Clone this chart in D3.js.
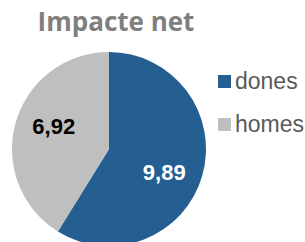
<!DOCTYPE html>
<html>
<head>
<meta charset="utf-8">
<script src="https://cdn.jsdelivr.net/npm/d3@7.9.0/dist/d3.min.js"></script>
<style>
  html, body { margin: 0; padding: 0; background: #fff; overflow: hidden; }
</style>
</head>
<body>
<div id="chart"></div>
<script>
const categories = ['dones', 'homes'];
const values = [9.89, 6.92];
const colors = ['#255e91', '#bfbfbf'];
const labelColors = ['#ffffff', '#000000'];
const title = 'Impacte net';

const width = 305;
const height = 242;

const svg = d3.select('#chart')
    .append('svg')
    .attr('width', width)
    .attr('height', height);

// title
svg.append('text')
    .attr('x', 116)
    .attr('y', 31)
    .attr('text-anchor', 'middle')
    .attr('font-family', 'Open Sans, sans-serif')
    .attr('font-weight', 'bold')
    .attr('font-size', 26)
    .attr('fill', '#7f7f7f')
    .text(title);

const cx = 109, cy = 149, radius = 97;

const pie = d3.pie().sort(null).value((d) => d.value);
const data = categories.map((c, i) => ({ name: c, value: values[i], i }));
const arcs = pie(data);

const arc = d3.arc().innerRadius(0).outerRadius(radius);
const labelArc = d3.arc().innerRadius(60).outerRadius(60);
// labels sit a little clockwise of the slice middle
const labelShift = 7 * Math.PI / 180;

const g = svg.append('g').attr('transform', `translate(${cx},${cy})`);

g.selectAll('path')
    .data(arcs)
    .join('path')
    .attr('d', arc)
    .attr('fill', (d) => colors[d.data.i]);

const fmt = (v) => d3.format('.2f')(v).replace('.', ',');

g.selectAll('text.lbl')
    .data(arcs)
    .join('text')
    .attr('class', 'lbl')
    .attr('transform', (d) => {
        const [x, y] = labelArc.centroid({
            startAngle: d.startAngle + labelShift,
            endAngle: d.endAngle + labelShift,
        });
        return `translate(${x},${y})`;
    })
    .attr('text-anchor', 'middle')
    .attr('dy', '0.36em')
    .attr('font-family', 'Liberation Sans, Arial, sans-serif')
    .attr('font-weight', 'bold')
    .attr('font-size', 22)
    .attr('fill', (d) => labelColors[d.data.i])
    .text((d) => fmt(d.data.value));

// legend
const legend = svg.append('g').attr('transform', 'translate(218,75)');
const item = legend.selectAll('g')
    .data(categories)
    .join('g')
    .attr('transform', (d, i) => `translate(0,${i * 43})`);

item.append('rect')
    .attr('width', 13)
    .attr('height', 13)
    .attr('fill', (d, i) => colors[i]);

item.append('text')
    .attr('x', 17)
    .attr('y', 14)
    .attr('font-family', 'Liberation Sans, Arial, sans-serif')
    .attr('font-size', 23)
    .attr('fill', '#595959')
    .text((d) => d);
</script>
</body>
</html>
